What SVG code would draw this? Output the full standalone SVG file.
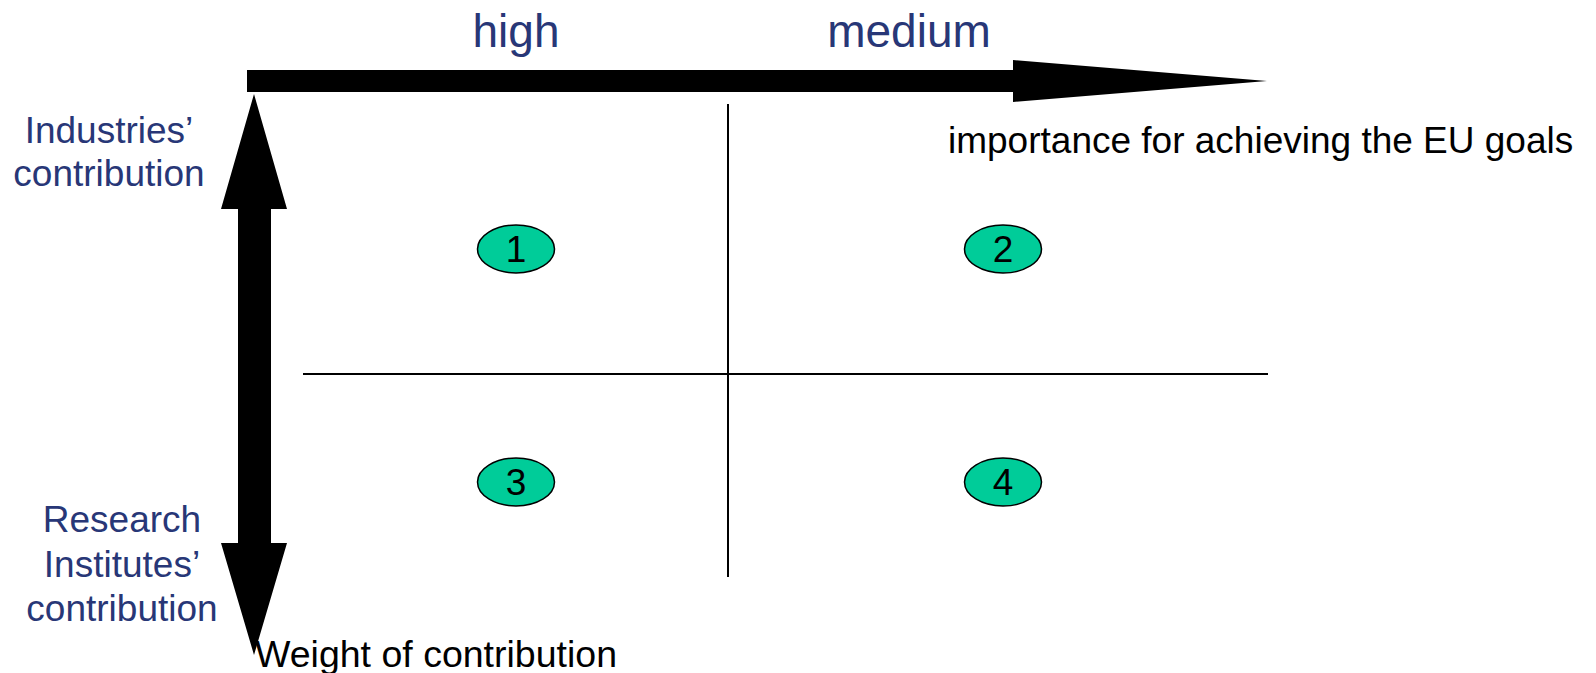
<svg xmlns="http://www.w3.org/2000/svg" width="1596" height="673" viewBox="0 0 1596 673">
<style>
.lbl{font-family:"Liberation Sans",Arial,sans-serif;fill:#283777;font-size:37px;text-anchor:middle}
.blk{font-family:"Liberation Sans",Arial,sans-serif;fill:#000;font-size:37px}
.num{font-family:"Liberation Sans",Arial,sans-serif;fill:#000;font-size:37px;text-anchor:middle}
.cell{fill:#00CC99;stroke:#000;stroke-width:1.5}
.grid{stroke:#000;stroke-width:2;fill:none}
</style>
<rect width="1596" height="673" fill="#fff"/>
<g id="connectors">
<polygon id="h-axis" points="247,70 1013,70 1013,60 1267,81 1013,102 1013,92 247,92" fill="#000"/>
<polygon id="v-axis" points="254,94 287,209 271,209 271,543 287,543 254,655 221,543 238,543 238,209 221,209" fill="#000"/>
<line class="grid" x1="728" y1="104" x2="728" y2="577"/>
<line class="grid" x1="303" y1="374" x2="1268" y2="374"/>
</g>
<g id="labels">
<text class="lbl" x="516" y="47" style="font-size:46px">high</text>
<text class="lbl" x="909" y="47" style="font-size:46px">medium</text>
<text class="blk" x="948" y="153">importance for achieving the EU goals</text>
<text class="lbl" x="109" y="143">Industries’</text>
<text class="lbl" x="109" y="186">contribution</text>
<text class="lbl" x="122" y="532">Research</text>
<text class="lbl" x="122" y="577">Institutes’</text>
<text class="lbl" x="122" y="621">contribution</text>
<text class="blk" x="255" y="667" style="font-size:37.5px">Weight of contribution</text>
</g>
<g id="node1"><ellipse class="cell" cx="516" cy="249" rx="38.5" ry="24"/><text class="num" x="516" y="262">1</text></g>
<g id="node2"><ellipse class="cell" cx="1003" cy="249" rx="38.5" ry="24"/><text class="num" x="1003" y="262">2</text></g>
<g id="node3"><ellipse class="cell" cx="516" cy="482" rx="38.5" ry="24"/><text class="num" x="516" y="495">3</text></g>
<g id="node4"><ellipse class="cell" cx="1003" cy="482" rx="38.5" ry="24"/><text class="num" x="1003" y="495">4</text></g>
</svg>
